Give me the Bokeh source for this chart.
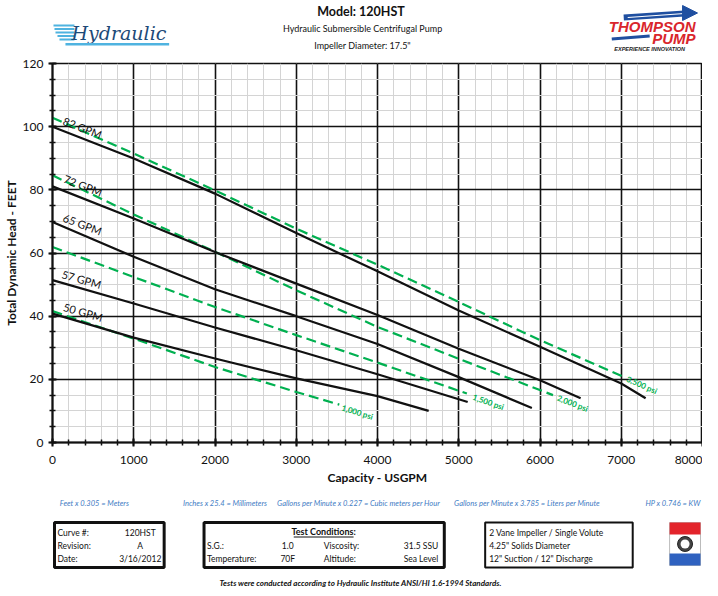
from bokeh.plotting import figure
from bokeh.layouts import column
from bokeh.models import SingleIntervalTicker, Range1d
from bokeh.core.properties import value
from bokeh.embed import file_html
from bokeh.resources import INLINE
import math

# ---------------- data ----------------
x_82 = [0, 1000, 2000, 3000, 4000, 5000, 6000, 7000, 7300]
h_82 = [100.0, 89.9, 78.8, 66.3, 54.2, 41.8, 30.3, 18.7, 14.0]
x_72 = [0, 1000, 2000, 3000, 4000, 5000, 6000, 6500]
h_72 = [81.1, 70.9, 60.3, 50.3, 40.4, 29.7, 19.7, 14.0]
x_65 = [0, 1000, 2000, 3000, 4000, 5000, 5900]
h_65 = [69.8, 58.8, 48.5, 40.0, 31.2, 20.7, 10.9]
x_57 = [0, 1000, 2000, 3000, 4000, 5110]
h_57 = [51.4, 44.0, 36.4, 29.2, 21.6, 12.8]
x_50 = [0, 1000, 2000, 3000, 4000, 4630]
h_50 = [40.8, 33.2, 26.6, 20.3, 14.7, 10.0]

x_3500 = [0, 1000, 2000, 3000, 4000, 5000, 6000, 7030]
h_3500 = [102.8, 91.5, 79.8, 67.7, 56.3, 44.5, 32.4, 20.8]
x_2000 = [0, 1000, 2000, 3000, 4000, 5000, 6160]
h_2000 = [84.6, 72.2, 60.4, 48.2, 36.6, 26.5, 15.0]
x_1500 = [0, 1000, 2000, 3000, 4000, 5100]
h_1500 = [61.9, 52.4, 42.9, 34.0, 25.3, 15.5]
x_1000 = [0, 1000, 2000, 3000, 3530]
h_1000 = [41.6, 32.9, 23.9, 16.0, 12.0]

gpm_labels = ["82 GPM", "72 GPM", "65 GPM", "57 GPM", "50 GPM"]
psi_labels = ["3,500 psi", "2,000 psi", "1,500 psi", "1,000 psi"]

conversions = ["Feet x 0.305 = Meters", "Inches x 25.4 = Millimeters",
               "Gallons per Minute x 0.227 = Cubic meters per Hour",
               "Gallons per Minute x 3.785 = Liters per Minute", "HP x 0.746 = KW"]

W = 702
LEFT, RIGHT_B = 43, 0           # borders shared by all three figures
X0, X1 = 8 + LEFT, 703          # page-pixel span of the (aligned) frames
FONT = value("Lato")
GREEN = "#00b050"


def panel(height, ytop, ybot):
    f = figure(width=W, height=height, x_range=Range1d(X0, X1), y_range=Range1d(ybot, ytop),
               output_backend="svg", toolbar_location=None,
               min_border_left=LEFT, min_border_right=RIGHT_B, min_border_top=0, min_border_bottom=0,
               x_axis_type=None, y_axis_type=None, outline_line_color=None)
    f.grid.visible = False
    return f


# ---------------- header (page y 0..55) ----------------
hdr = panel(55, 0, 55)
hdr.text(x=[362], y=[11], text=["Model:  120HST"], text_align="center", text_baseline="middle",
         text_font=FONT, text_font_size="12.5px", text_font_style="bold", text_color="#111")
hdr.text(x=[362, 362], y=[28, 45], text=["Hydraulic Submersible Centrifugal Pump", "Impeller Diameter: 17.5\""],
         text_align="center", text_baseline="middle", text_font=FONT, text_font_size="9px", text_color="#111")
# Hydraulic logo
hdr.segment(x0=[52, 53, 54, 56, 58], y0=[25, 28.5, 32, 35.5, 39], x1=[73, 73, 73, 73, 73],
            y1=[25, 28.5, 32, 35.5, 39], line_color="#4fb3e0", line_width=2)
hdr.text(x=[70], y=[32], text=["Hydraulic"], text_align="left", text_baseline="middle",
         text_font=value("DejaVu Serif"), text_font_style="italic", text_font_size="19px", text_color="#1d4a78")
hdr.quad(left=[64], right=[168], top=[42.5], bottom=[45], fill_color="#4fb3e0", line_color=None)
# Thompson Pump logo
hdr.segment(x0=[624], y0=[17], x1=[685], y1=[13], line_color="#1f4fa0", line_width=6)
hdr.segment(x0=[628], y0=[17], x1=[685], y1=[13], line_color="white", line_width=1.2)
hdr.patch(x=[683, 698, 683], y=[5, 12.5, 20], fill_color="#1f4fa0", line_color="#1f4fa0")
hdr.text(x=[696], y=[26], text=["THOMPSON"], text_align="right", text_baseline="middle",
         text_font=value("Liberation Sans"), text_font_style="bold italic", text_font_size="15px", text_color="#d9262c")
hdr.text(x=[696], y=[37.5], text=["PUMP"], text_align="right", text_baseline="middle",
         text_font=value("Liberation Sans"), text_font_style="bold italic", text_font_size="15px", text_color="#d9262c")
hdr.segment(x0=[612], y0=[38.5], x1=[650], y1=[35.5], line_color="#1f4fa0", line_width=3)
hdr.text(x=[650], y=[48.5], text=["EXPERIENCE INNOVATION"], text_align="center", text_baseline="middle",
         text_font=value("Liberation Sans"), text_font_style="bold italic", text_font_size="5.5px", text_color="#222")

# ---------------- main chart (page y 55..490) ----------------
p = figure(width=W, height=435, x_range=Range1d(0, 8000), y_range=Range1d(0, 120),
           output_backend="svg", toolbar_location=None,
           min_border_left=LEFT, min_border_right=RIGHT_B, min_border_top=8, min_border_bottom=48)
xt = SingleIntervalTicker(interval=1000, num_minor_ticks=5)
yt = SingleIntervalTicker(interval=20, num_minor_ticks=4)
p.xaxis.ticker = xt
p.yaxis.ticker = yt
p.xgrid.ticker = xt
p.ygrid.ticker = yt
for g in (p.xgrid, p.ygrid):
    g.grid_line_color = "#111"
    g.grid_line_width = 1.6
    g.minor_grid_line_color = "#d4d4d4"
    g.minor_grid_line_width = 1
p.outline_line_color = "#111"
p.outline_line_width = 1.6
for ax in (p.xaxis, p.yaxis):
    ax.axis_line_width = 2
    ax.axis_line_color = "#111"
    ax.major_tick_in = 4
    ax.major_tick_out = 4
    ax.minor_tick_in = 3
    ax.minor_tick_out = 3
    ax.major_tick_line_width = 2
    ax.minor_tick_line_width = 1.5
    ax.major_tick_line_color = "#111"
    ax.minor_tick_line_color = "#111"
    ax.major_label_text_font = "Lato"
    ax.major_label_text_font_size = "12px"
    ax.major_label_text_color = "#111"
    ax.axis_label_text_font = "Lato"
    ax.axis_label_text_font_size = "12px"
    ax.axis_label_text_font_style = "bold"
    ax.axis_label_text_color = "#111"
p.xaxis.axis_label = "Capacity - USGPM"
p.yaxis.axis_label = "Total Dynamic Head - FEET"
p.yaxis.major_label_standoff = 5
p.yaxis.axis_label_standoff = 1
p.xaxis.major_label_standoff = 9
p.xaxis.axis_label_standoff = 3

for xs, hs in ((x_3500, h_3500), (x_2000, h_2000), (x_1500, h_1500), (x_1000, h_1000)):
    p.line(xs, hs, line_color=GREEN, line_width=2.2, line_dash="10 5")
for xs, hs in ((x_82, h_82), (x_72, h_72), (x_65, h_65), (x_57, h_57), (x_50, h_50)):
    p.line(xs, hs, line_color="#111", line_width=2.2)

deg = math.pi / 180
p.text(x=[370, 377, 370, 358, 377], y=[99.7, 81.4, 69.1, 51.7, 41.3], text=gpm_labels,
       angle=[-21 * deg, -21 * deg, -21 * deg, -16 * deg, -16 * deg],
       text_align="center", text_baseline="middle", text_font=FONT, text_font_size="11px", text_color="#111")
p.text(x=[7254, 6402, 5364, 3752], y=[18.2, 12.4, 12.8, 9.6], text=psi_labels,
       angle=[-24 * deg, -21 * deg, -19 * deg, -17 * deg],
       text_align="center", text_baseline="middle", text_font=FONT, text_font_size="8px",
       text_font_style="bold", text_color=GREEN)

# ---------------- footer (page y 490..588) ----------------
ftr = panel(98, 490, 588)
ftr.text(x=[93, 224, 358, 527], y=[503] * 4, text=conversions[:4], text_align="center", text_baseline="middle",
         text_font=FONT, text_font_size="7.5px", text_font_style="italic", text_color="#3f7cc4")
ftr.text(x=[701], y=[503], text=conversions[4:], text_align="right", text_baseline="middle",
         text_font=FONT, text_font_size="7.5px", text_font_style="italic", text_color="#3f7cc4")
# boxes
ftr.quad(left=[53, 203], right=[163, 444], top=[522, 522], bottom=[567, 567],
         fill_color="white", line_color="#111", line_width=3)
ftr.quad(left=[485], right=[633], top=[522], bottom=[567], fill_color="white", line_color="#111", line_width=2)
TS = "8.5px"
ftr.text(x=[56, 56, 56], y=[532, 545, 558], text=["Curve #:", "Revision:", "Date:"], text_align="left",
         text_baseline="middle", text_font=FONT, text_font_size=TS, text_color="#111")
ftr.text(x=[139, 139, 139], y=[532, 545, 558], text=["120HST", "A", "3/16/2012"], text_align="center",
         text_baseline="middle", text_font=FONT, text_font_size=TS, text_color="#111")
ftr.text(x=[323], y=[531], text=["Test Conditions:"], text_align="center", text_baseline="middle",
         text_font=FONT, text_font_size="9px", text_font_style="bold", text_color="#111")
ftr.segment(x0=[293], y0=[536.5], x1=[353], y1=[536.5], line_color="#111", line_width=1)
ftr.text(x=[206, 206, 323, 323], y=[545, 558, 545, 558], text=["S.G.:", "Temperature:", "Viscosity:", "Altitude:"],
         text_align="left", text_baseline="middle", text_font=FONT, text_font_size=TS, text_color="#111")
ftr.text(x=[287, 287], y=[545, 558], text=["1.0", "70F"], text_align="center",
         text_baseline="middle", text_font=FONT, text_font_size=TS, text_color="#111")
ftr.text(x=[438, 438], y=[545, 558], text=["31.5 SSU", "Sea Level"], text_align="right",
         text_baseline="middle", text_font=FONT, text_font_size=TS, text_color="#111")
ftr.text(x=[489, 489, 489], y=[532, 545, 558],
         text=["2 Vane Impeller / Single Volute", "4.25\" Solids Diameter", "12\" Suction / 12\" Discharge"],
         text_align="left", text_baseline="middle", text_font=FONT, text_font_size=TS, text_color="#111")
# flag logo
ftr.quad(left=[670], right=[701], top=[522], bottom=[565], fill_color="white", line_color="#bbbbbb", line_width=1)
ftr.quad(left=[670], right=[701], top=[522], bottom=[534], fill_color="#e3242b", line_color=None)
ftr.quad(left=[670], right=[701], top=[553], bottom=[565], fill_color="#2f62c0", line_color=None)
ftr.circle(x=[685.5], y=[543.5], radius=7.5, fill_color="#444", line_color="#222")
ftr.circle(x=[685.5], y=[543.5], radius=4.5, fill_color="white", line_color=None)
ftr.text(x=[360], y=[582.5], text=["Tests were conducted according to Hydraulic Institute ANSI/HI 1.6-1994 Standards."],
         text_align="center", text_baseline="middle", text_font=FONT, text_font_size="8px",
         text_font_style="bold italic", text_color="#111")

layout = column(hdr, p, ftr, spacing=0)
open("out.html", "w").write(file_html(layout, INLINE))
